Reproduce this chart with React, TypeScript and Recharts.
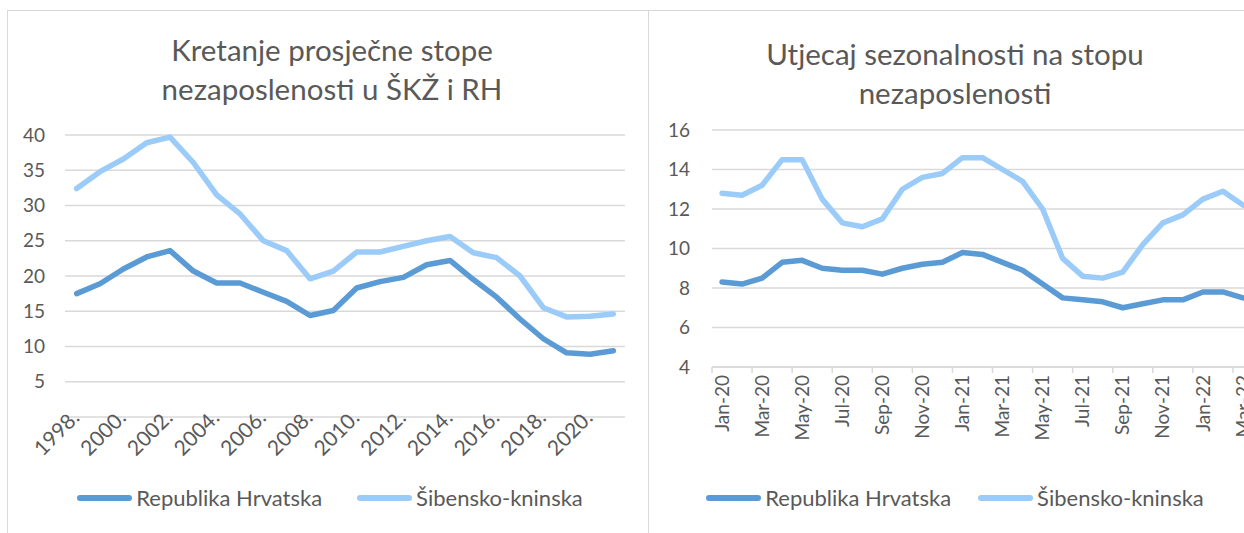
import React from 'react';
import { LineChart, Line, XAxis, YAxis, CartesianGrid, Legend } from 'recharts';

const years = [
  '1998.', '1999.', '2000.', '2001.', '2002.', '2003.', '2004.', '2005.', '2006.', '2007.', '2008.', '2009.',
  '2010.', '2011.', '2012.', '2013.', '2014.', '2015.', '2016.', '2017.', '2018.', '2019.', '2020.', '2021.',
];
const hrvatskaGod = [17.5, 18.9, 21.0, 22.7, 23.6, 20.7, 19.0, 19.0, 17.7, 16.4, 14.4, 15.1, 18.3, 19.2, 19.8, 21.6, 22.2, 19.5, 17.0, 13.9, 11.1, 9.1, 8.9, 9.4];
const sibenikGod = [32.4, 34.8, 36.6, 38.9, 39.7, 36.1, 31.5, 28.8, 25.0, 23.6, 19.6, 20.7, 23.4, 23.4, 24.2, 25.0, 25.6, 23.3, 22.6, 20.0, 15.5, 14.2, 14.3, 14.6];

const months = [
  'Jan-20', 'Feb-20', 'Mar-20', 'Apr-20', 'May-20', 'Jun-20', 'Jul-20', 'Aug-20', 'Sep-20', 'Oct-20', 'Nov-20', 'Dec-20',
  'Jan-21', 'Feb-21', 'Mar-21', 'Apr-21', 'May-21', 'Jun-21', 'Jul-21', 'Aug-21', 'Sep-21', 'Oct-21', 'Nov-21', 'Dec-21',
  'Jan-22', 'Feb-22', 'Mar-22',
];
const hrvatskaMj = [8.3, 8.2, 8.5, 9.3, 9.4, 9.0, 8.9, 8.9, 8.7, 9.0, 9.2, 9.3, 9.8, 9.7, 9.3, 8.9, 8.2, 7.5, 7.4, 7.3, 7.0, 7.2, 7.4, 7.4, 7.8, 7.8, 7.5];
const sibenikMj = [12.8, 12.7, 13.2, 14.5, 14.5, 12.5, 11.3, 11.1, 11.5, 13.0, 13.6, 13.8, 14.6, 14.6, 14.0, 13.4, 12.0, 9.5, 8.6, 8.5, 8.8, 10.2, 11.3, 11.7, 12.5, 12.9, 12.2];

const leftTicks = [5, 10, 15, 20, 25, 30, 35, 40];
const rightTicks = [4, 6, 8, 10, 12, 14, 16];

const godData = years.map((g, i) => ({ name: g, rh: hrvatskaGod[i], skz: sibenikGod[i] }));
const mjData = months.map((m, i) => ({ name: m, rh: hrvatskaMj[i], skz: sibenikMj[i] }));

const DARK = '#5B9BD5';
const LIGHT = '#9BCBF8';
const GRID = '#D9D9D9';
const TEXT = '#595959';
const FONT = 'Lato, "Open Sans", sans-serif';

// plot widths, used to put each point in the middle of its category like Excel does
const LEFT_PLOT_W = 560;
const RIGHT_PLOT_W = 541;
const bandL = LEFT_PLOT_W / years.length;
const bandR = RIGHT_PLOT_W / months.length;

const YearTick = (props: any) => {
  const { x, y, payload } = props;
  return (
    <g transform={`translate(${x + 4},${y + 2})`}>
      <text transform="rotate(-45)" textAnchor="end" fill={TEXT} fontSize={21} fontFamily={FONT}>
        {payload.value}
      </text>
    </g>
  );
};

const MonthTick = (props: any) => {
  const { x, y, payload } = props;
  return (
    <g>
      <line x1={x - bandR / 2} x2={x - bandR / 2} y1={y} y2={y + 6} stroke={GRID} strokeWidth={1.5} />
      <g transform={`translate(${x},${y + 8})`}>
        <text transform="rotate(-90)" textAnchor="end" dy="0.35em" fill={TEXT} fontSize={19} fontFamily={FONT}>
          {payload.value}
        </text>
      </g>
    </g>
  );
};

const makeLegend = (gap: number) => (props: any) => (
  <div style={{ display: 'flex', justifyContent: 'center', alignItems: 'center', gap }}>
    {props.payload.map((e: any) => (
      <div key={e.value} style={{ display: 'flex', alignItems: 'center' }}>
        <span style={{ display: 'inline-block', width: 55, height: 6, borderRadius: 3, background: e.color, marginRight: 4 }} />
        <span style={{ fontSize: 22, color: TEXT, fontFamily: FONT }}>{e.value}</span>
      </div>
    ))}
  </div>
);

const titleStyle: React.CSSProperties = {
  position: 'absolute',
  textAlign: 'center',
  color: TEXT,
  fontFamily: FONT,
  fontSize: 29.5,
  lineHeight: '39px',
};

export default function App() {
  return (
    <div style={{ position: 'absolute', left: 0, top: 0, width: 1244, height: 533, overflow: 'hidden', background: '#fff' }}>
      <div style={{ position: 'absolute', left: 7, top: 10, width: 642, height: 600, boxSizing: 'border-box', borderLeft: `1.5px solid ${GRID}`, borderTop: `1.5px solid ${GRID}`, borderRight: `1.5px solid ${GRID}` }} />
      <div style={{ position: 'absolute', left: 648, top: 10, width: 700, height: 600, borderTop: `1.5px solid ${GRID}` }} />

      <div style={{ ...titleStyle, left: 7, top: 30, width: 650 }}>
        Kretanje prosječne stope<br />nezaposlenosti u ŠKŽ i RH
      </div>
      <div style={{ ...titleStyle, left: 648, top: 34, width: 614 }}>
        Utjecaj sezonalnosti na stopu<br />nezaposlenosti
      </div>

      <div style={{ position: 'absolute', left: 0, top: 0 }}>
        <LineChart width={650} height={533} data={godData} margin={{ top: 135, right: 25, left: 5, bottom: 86 }}>
          <CartesianGrid vertical={false} stroke={GRID} strokeWidth={1.5} />
          <XAxis dataKey="name" interval={1} axisLine={false} tickLine={false} tickSize={0} tickMargin={0} height={30}
            padding={{ left: bandL / 2, right: bandL / 2 }} tick={<YearTick />} />
          <YAxis domain={[0, 40]} ticks={leftTicks} width={60} axisLine={false} tickLine={false} tickSize={0} tickMargin={20}
            tick={{ fill: TEXT, fontSize: 19, fontFamily: FONT }} />
          <Legend verticalAlign="middle" layout="horizontal" align="center" content={makeLegend(35)}
            wrapperStyle={{ top: 484, left: 5, width: 650 }} />
          <Line type="linear" dataKey="rh" name="Republika Hrvatska" stroke={DARK} strokeWidth={5.5} dot={false}
            strokeLinejoin="round" strokeLinecap="round" isAnimationActive={false} />
          <Line type="linear" dataKey="skz" name="Šibensko-kninska" stroke={LIGHT} strokeWidth={5.5} dot={false}
            strokeLinejoin="round" strokeLinecap="round" isAnimationActive={false} />
        </LineChart>
      </div>

      <div style={{ position: 'absolute', left: 648, top: 0 }}>
        <LineChart width={614} height={533} data={mjData} margin={{ top: 130, right: 9, left: 4, bottom: 136 }}>
          <CartesianGrid vertical={false} stroke={GRID} strokeWidth={1.5} />
          <XAxis dataKey="name" interval={1} axisLine={{ stroke: GRID, strokeWidth: 1.5 }} tickLine={false} tickSize={0} tickMargin={0}
            height={30} padding={{ left: bandR / 2, right: bandR / 2 }} tick={<MonthTick />} />
          <YAxis domain={[4, 16]} ticks={rightTicks} width={60} axisLine={false} tickLine={false} tickSize={0} tickMargin={22}
            tick={{ fill: TEXT, fontSize: 19, fontFamily: FONT }} />
          <Legend verticalAlign="middle" layout="horizontal" align="center" content={makeLegend(27)}
            wrapperStyle={{ top: 484, left: 0, width: 614 }} />
          <Line type="linear" dataKey="rh" name="Republika Hrvatska" stroke={DARK} strokeWidth={5.5} dot={false}
            strokeLinejoin="round" strokeLinecap="round" isAnimationActive={false} />
          <Line type="linear" dataKey="skz" name="Šibensko-kninska" stroke={LIGHT} strokeWidth={5.5} dot={false}
            strokeLinejoin="round" strokeLinecap="round" isAnimationActive={false} />
        </LineChart>
      </div>
    </div>
  );
}
